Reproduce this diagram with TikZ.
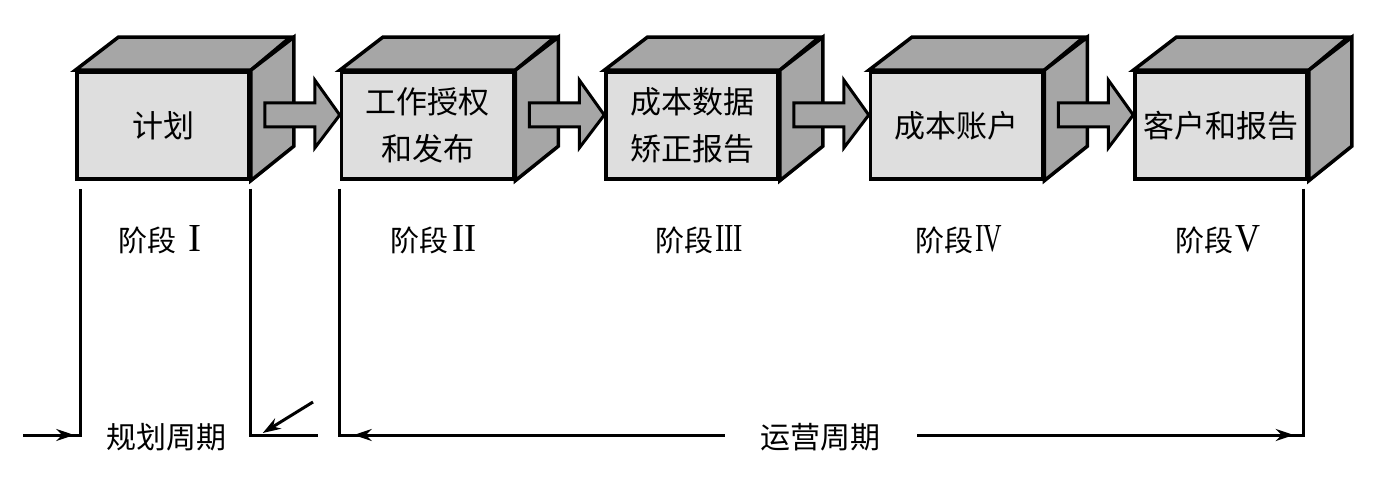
\documentclass[tikz,border=0pt]{standalone}
\usepackage{fontspec}
\usepackage{graphicx}
\newfontfamily\cjk{Noto Sans CJK SC}
\newfontfamily\romanfont{Liberation Serif}
\usetikzlibrary{positioning,calc,arrows.meta}
\definecolor{facegray}{HTML}{DEDEDE}
\definecolor{sidegray}{HTML}{A6A6A6}
\newcommand\numeral[2]{\resizebox{#1}{26pt}{\romanfont #2}}
\tikzset{
  front/.style={draw, line width=3.5pt, fill=facegray, minimum width=172pt,
    minimum height=107pt, inner sep=0pt, align=center,
    font=\cjk\fontsize{31}{47}\selectfont},
  face/.style={draw, line width=3.5pt, fill=sidegray},
  flow/.style={draw, line width=3pt, fill=sidegray},
  guide/.style={line width=3pt},
  tip/.style={line width=3pt, -{Stealth[length=18pt,width=12pt]}},
  stage/.style={font=\cjk\fontsize{29}{35}\selectfont, inner sep=0pt, anchor=west},
  cycle/.style={font=\cjk\fontsize{30}{36}\selectfont},
}

\begin{document}
\begin{tikzpicture}[x=1pt,y=-1pt]
\useasboundingbox (0,0) rectangle (1388,494);

% front faces
\node[front] (plan) at (163,125.5) {计划};
\node[front, right=89pt of plan] (release) {工作授权\\和发布};
\node[front, right=89pt of release] (correct) {成本数据\\矫正报告};
\node[front, right=89pt of correct] (account) {成本账户};
\node[front, right=89pt of account] (report) {客户和报告};

% top and side faces
\foreach \b in {plan,release,correct,account,report} {
  \draw[face] (\b.north west) -- ++(43,-33) -- ++(172,0) -- (\b.north east) -- cycle;
  \draw[face] (\b.north east) -- ++(43,-33) -- ++(0,109) -- (\b.south east) -- cycle;
}

% block arrows
\foreach \a/\b in {plan/release,release/correct,correct/account,account/report}
  \draw[flow] ($(\a.east)+(14,-22.5)$) -- ++(50,0) -- ++(0,-23)
    -- ($(\b.west)+(0,-10.5)$) -- ++(-25,33) -- ++(0,-21)
    -- ($(\a.east)+(14,1.5)$) -- cycle;

% stages
\node[stage] (s1) at (118,240) {阶段\hspace{12pt}\numeral{13pt}{I}};
\node[stage] (s2) at (390,240) {阶段\hspace{4pt}\numeral{24pt}{II}};
\node[stage] (s3) at (655,240) {阶段\hspace{2pt}\numeral{28pt}{III}};
\node[stage] (s4) at (915,240) {阶段\hspace{2pt}\numeral{27pt}{IV}};
\node[stage] (s5) at (1175,240) {阶段\hspace{2pt}\numeral{25pt}{V}};

% cycles
\node[cycle] (plancycle) at (166,437) {规划周期};
\node[cycle] (opcycle) at (820,437) {运营周期};

\coordinate (pa) at ($(plan.south west)+(5,8)$);
\coordinate (pb) at ($(plan.south east)+(0,8)$);
\coordinate (ra) at ($(release.south west)+(0,8)$);
\coordinate (rb) at ($(report.south east)+(-5,8)$);
\coordinate (in) at (23,435);
\coordinate (out) at (318,435);
\coordinate (hint) at (313,402);

\draw[guide] (in) -- (pa |- in) -- (pa);
\draw[tip] (in) -- ($(pa |- in)+(-6,0)$);
\draw[guide] (pb) -- (pb |- out) -- (out);
\draw[tip] (hint) -- ($(pb |- out)+(12,-2)$);
\draw[guide] (ra) -- (ra |- in) -- ($(opcycle.west |- in)+(-31,0)$);
\draw[tip] ($(ra |- in)+(40,0)$) -- ($(ra |- in)+(14,0)$);
\draw[guide] (rb) -- (rb |- in) -- ($(opcycle.east |- in)+(33,0)$);
\draw[tip] ($(rb |- in)+(-40,0)$) -- ($(rb |- in)+(-10,0)$);
\end{tikzpicture}
\end{document}
